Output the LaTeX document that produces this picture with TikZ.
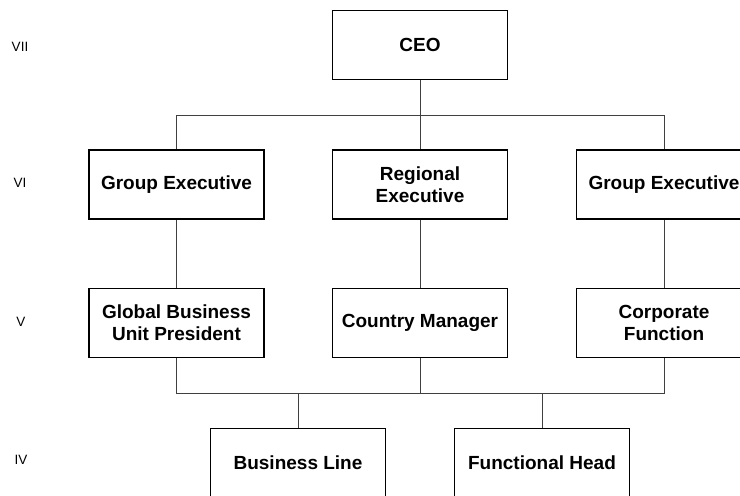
\documentclass[tikz,border=0pt]{standalone}
\usepackage{fontspec}
\setmainfont{Liberation Sans}
\begin{document}
\begin{tikzpicture}[x=1pt,y=-1pt,
  box/.style={draw=black,line width=1.9pt,minimum width=175pt,minimum height=69pt,inner sep=2pt,
    align=center,font=\fontsize{19}{22}\selectfont\bfseries},
  lvl/.style={font=\fontsize{13.5}{15}\selectfont},
  conn/.style={draw=black!75,line width=0.9pt}]
\clip (0,0) rectangle (740,496);
\fill[white] (0,0) rectangle (740,496);
% level labels
\node[lvl] (l7) at (20,47) {VII};
\node[lvl] (l6) at (20,183) {VI};
\node[lvl] (l5) at (21,322) {V};
\node[lvl] (l4) at (21,460) {IV};
% boxes
\node[box] (ceo) at (420,45) {CEO};
\node[box] (ge1) at (176.5,184.5) {Group Executive};
\node[box] (re) at (420,184.5) {Regional\\Executive};
\node[box] (ge2) at (664,184.5) {Group Executive};
\node[box] (gbu) at (176.5,323) {Global Business\\Unit President};
\node[box] (cm) at (420,323) {Country Manager};
\node[box] (cf) at (664,323) {Corporate\\Function};
\node[box] (bl) at (298,463) {Business Line};
\node[box] (fh) at (542,463) {Functional Head};
% connectors
\coordinate (topbus) at (420,115);
\coordinate (botbus) at (420,393);
\draw[conn] (ceo.south) -- (re.north);
\draw[conn] (ge1.north) -- (ge1.north |- topbus) -- (ge2.north |- topbus) -- (ge2.north);
\draw[conn] (ge1.south) -- (gbu.north);
\draw[conn] (re.south) -- (cm.north);
\draw[conn] (ge2.south) -- (cf.north);
\draw[conn] (gbu.south) -- (gbu.south |- botbus) -- (cf.south |- botbus) -- (cf.south);
\draw[conn] (cm.south) -- (cm.south |- botbus);
\draw[conn] (bl.north) -- (bl.north |- botbus);
\draw[conn] (fh.north) -- (fh.north |- botbus);
\end{tikzpicture}
\end{document}
